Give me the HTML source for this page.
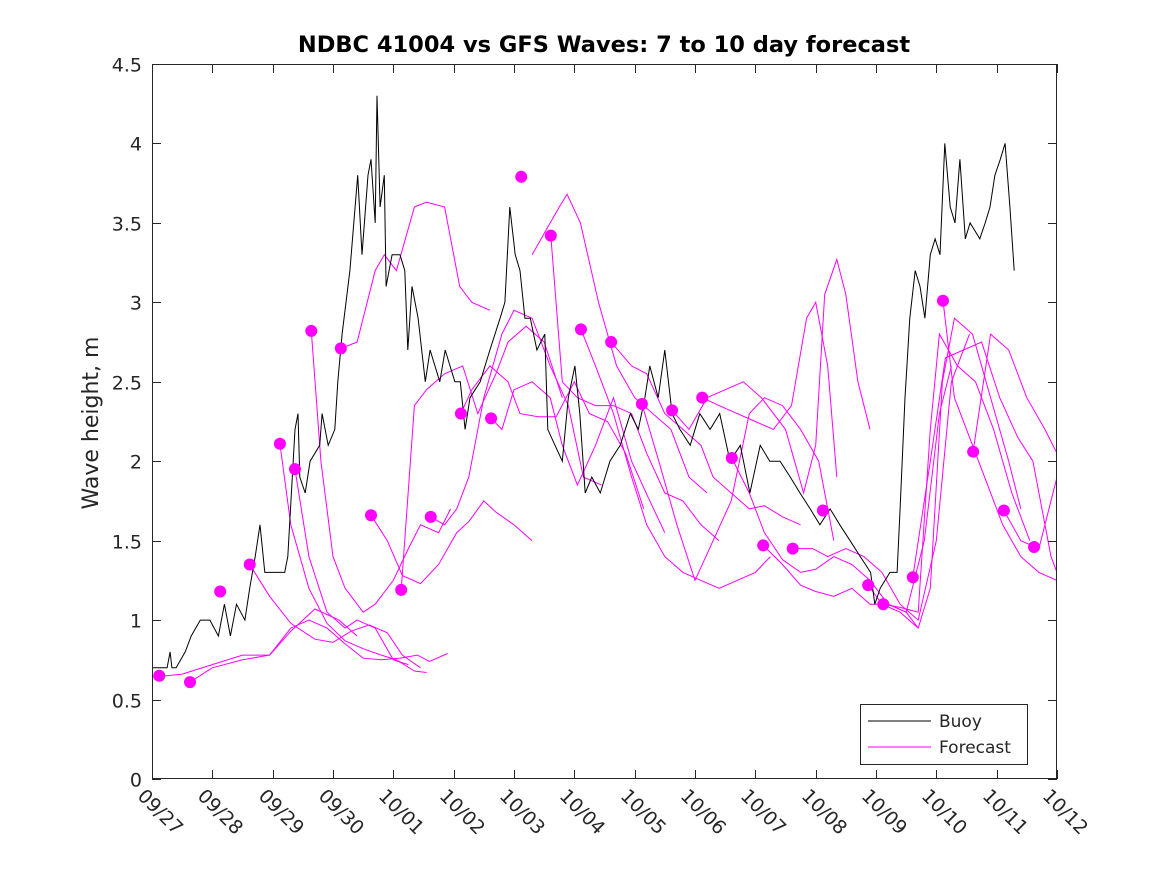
<!DOCTYPE html>
<html><head><meta charset="utf-8"><style>
body{margin:0;background:#fff}
svg{display:block;font-family:"DejaVu Sans","Liberation Sans",sans-serif}
</style></head><body>
<svg id="chart" width="1167" height="875" viewBox="0 0 1167 875">
<rect width="1167" height="875" fill="#fff"/>
<text x="604" y="52" text-anchor="middle" font-size="22.5" font-weight="bold" fill="#000">NDBC 41004 vs GFS Waves: 7 to 10 day forecast</text>
<text transform="translate(98,423) rotate(-90)" text-anchor="middle" font-size="22" fill="#262626">Wave height, m</text>
<defs><clipPath id="clip"><rect x="152" y="64" width="905" height="715"/></clipPath></defs>
<g id="forecasts" clip-path="url(#clip)"></g>
<g id="buoy" clip-path="url(#clip)"></g>
<g id="dots"></g>
<g id="axes"></g>
<g>
<rect x="860.5" y="704.5" width="167" height="60" fill="#fff" stroke="#262626" stroke-width="1"/>
<line x1="868" y1="721" x2="931" y2="721" stroke="#000" stroke-width="1"/>
<text x="939" y="727" font-size="17" fill="#262626">Buoy</text>
<line x1="868" y1="747" x2="931" y2="747" stroke="#f0f" stroke-width="1"/>
<text x="939" y="753" font-size="17" fill="#262626">Forecast</text>
</g>
</svg>
<script>
const xTickLabels=["09/27","09/28","09/29","09/30","10/01","10/02","10/03","10/04","10/05","10/06","10/07","10/08","10/09","10/10","10/11","10/12"];
const yTicks=[0,0.5,1,1.5,2,2.5,3,3.5,4,4.5];
const buoyDays=[0,0.25,0.3,0.33,0.4,0.55,0.65,0.8,0.96,1.1,1.2,1.3,1.4,1.54,1.62,1.71,1.79,1.87,2.0,2.2,2.25,2.37,2.42,2.45,2.54,2.62,2.78,2.82,2.92,3.03,3.08,3.15,3.28,3.41,3.48,3.58,3.63,3.70,3.73,3.78,3.85,3.88,3.98,4.11,4.19,4.24,4.31,4.41,4.53,4.61,4.77,4.86,4.94,5.02,5.11,5.19,5.27,5.44,5.6,5.77,5.85,5.93,6.02,6.1,6.18,6.27,6.38,6.51,6.56,6.68,6.8,6.9,7.01,7.09,7.18,7.29,7.43,7.59,7.76,7.93,8.06,8.17,8.25,8.39,8.5,8.62,8.75,8.92,9.08,9.25,9.41,9.58,9.75,9.91,10.08,10.24,10.41,10.58,10.74,10.91,11.07,11.24,11.4,11.57,11.74,11.91,11.98,12.07,12.23,12.35,12.4,12.48,12.56,12.65,12.73,12.81,12.9,12.98,13.06,13.14,13.23,13.31,13.39,13.48,13.56,13.72,13.81,13.89,13.97,14.06,14.14,14.22,14.29];
const buoyVals=[0.7,0.7,0.8,0.7,0.7,0.8,0.9,1.0,1.0,0.9,1.1,0.9,1.1,1.0,1.2,1.4,1.6,1.3,1.3,1.3,1.4,2.2,2.3,1.9,1.8,2.0,2.1,2.3,2.1,2.2,2.5,2.8,3.2,3.8,3.3,3.8,3.9,3.5,4.3,3.6,3.8,3.1,3.3,3.3,3.2,2.7,3.1,2.9,2.5,2.7,2.5,2.7,2.6,2.5,2.5,2.2,2.4,2.5,2.7,2.9,3.0,3.6,3.3,3.2,2.9,2.9,2.7,2.8,2.2,2.1,2.0,2.4,2.6,2.3,1.8,1.9,1.8,2.0,2.1,2.3,2.2,2.4,2.6,2.4,2.7,2.3,2.2,2.1,2.3,2.2,2.3,2.0,2.1,1.8,2.1,2.0,2.0,1.9,1.8,1.7,1.6,1.7,1.6,1.5,1.4,1.3,1.1,1.2,1.3,1.3,1.7,2.4,2.9,3.2,3.1,2.9,3.3,3.4,3.3,4.0,3.6,3.5,3.9,3.4,3.5,3.4,3.5,3.6,3.8,3.9,4.0,3.6,3.2];
const dotDays=[0.12,0.63,1.13,1.62,2.12,2.37,2.64,3.13,3.63,4.13,4.62,5.12,5.62,6.12,6.61,7.11,7.61,8.12,8.62,9.12,9.61,10.13,10.62,11.12,11.87,12.12,12.61,13.11,13.61,14.12,14.62];
const dotVals=[0.65,0.61,1.18,1.35,2.11,1.95,2.82,2.71,1.66,1.19,1.65,2.30,2.27,3.79,3.42,2.83,2.75,2.36,2.32,2.40,2.02,1.47,1.45,1.69,1.22,1.10,1.27,3.01,2.06,1.69,1.46];
const fcDays=[
[0,0.5,1,1.5,1.95,2.3,2.7,3.1,3.4],
[0.63,1,1.5,1.95,2.3,2.6,2.9,3.2,3.5,3.8,4.1,4.4,4.6,4.9],
[1.62,1.95,2.3,2.7,3.0,3.3,3.6,3.9,4.15,4.45],
[2.12,2.3,2.6,2.9,3.2,3.5,3.8,4.05,4.35,4.55],
[2.37,2.6,2.9,3.2,3.4,3.7,4.0,4.25],
[2.64,2.8,3.0,3.2,3.5,3.7,4.0,4.25,4.45,4.75,4.95],
[3.13,3.4,3.7,3.85,4.05,4.35,4.55,4.85,5.1,5.3,5.6],
[3.63,3.9,4.15,4.45,4.75,5.05,5.25,5.5,5.7,6.0,6.3],
[4.13,4.35,4.55,4.85,5.15,5.4,5.7,5.9,6.2,6.5,6.8],
[4.62,4.85,5.05,5.25,5.5,5.8,6.0,6.3,6.6,6.9,7.15,7.45],
[5.12,5.3,5.6,5.9,6.1,6.4,6.7,7.0,7.25,7.55,7.85,8.15],
[5.62,5.8,6.0,6.3,6.6,6.8,7.05,7.35,7.65,7.95,8.25,8.5],
[6.3,6.6,6.75,6.88,7.1,7.4,7.7,8.0,8.3,8.6,8.9,9.2],
[6.61,6.8,7.05,7.35,7.65,7.95,8.2,8.5,8.8,9.1,9.4],
[7.11,7.35,7.65,7.95,8.2,8.5,8.8,9.1,9.4,9.7,10.0,10.25],
[7.61,7.95,8.2,8.5,8.8,9.1,9.3,9.6,9.9,10.15,10.45,10.75],
[8.12,8.4,8.7,9.0,9.3,9.6,9.9,10.15,10.45,10.75,11.05,11.3],
[8.62,8.9,9.2,9.5,9.8,10.1,10.5,10.8,11.0,11.15,11.35,11.5,11.7,11.9],
[9.12,9.4,9.7,10.0,10.3,10.6,10.85,11.0,11.2,11.35],
[9.61,9.9,10.15,10.45,10.75,11.0,11.3,11.6,11.9,12.2,12.5,12.7],
[10.13,10.45,10.75,11.0,11.3,11.6,11.9,12.2,12.5,12.8,13.05,13.25],
[10.62,10.95,11.2,11.5,11.8,12.1,12.4,12.7,13.0,13.25,13.55],
[11.87,12.1,12.4,12.7,12.9,13.1,13.3,13.6,13.9,14.2,14.4],
[12.12,12.4,12.7,12.9,13.05,13.35,13.65,13.95,14.25,14.55],
[12.61,12.9,13.15,13.45,13.75,14.05,14.35,14.6,14.9,15],
[13.11,13.3,13.5,13.8,14.1,14.4,14.7,15],
[13.61,13.9,14.2,14.5,14.8,15],
[14.12,14.4,14.7,15]];
const fcVals=[
[0.64,0.66,0.72,0.78,0.78,0.93,1.07,1.0,0.9],
[0.61,0.70,0.75,0.78,0.95,1.0,0.95,0.85,0.76,0.75,0.76,0.78,0.74,0.79],
[1.35,1.15,0.98,0.88,0.86,0.93,0.97,0.92,0.78,0.70],
[2.11,1.6,1.2,0.98,0.87,0.82,0.78,0.75,0.68,0.67],
[1.95,1.4,1.05,0.95,1.0,0.95,0.75,0.72],
[2.82,2.0,1.4,1.2,1.05,1.1,1.25,1.45,1.6,1.55,1.7],
[2.71,2.75,3.2,3.3,3.2,3.6,3.63,3.6,3.1,3.0,2.95],
[1.66,1.5,1.28,1.23,1.35,1.55,1.62,1.75,1.68,1.6,1.5],
[1.19,2.35,2.45,2.55,2.6,2.3,2.55,2.75,2.85,2.75,2.4],
[1.65,1.6,1.7,1.9,2.4,2.8,2.95,2.9,2.6,2.35,1.9,1.85],
[2.30,2.45,2.6,2.5,2.3,2.28,2.28,2.5,2.3,2.25,2.05,1.7],
[2.27,2.2,2.45,2.5,2.4,2.1,1.85,2.1,2.4,2.0,1.75,1.55],
[3.3,3.5,3.6,3.68,3.5,3.0,2.6,2.4,2.3,2.2,1.9,1.8],
[3.42,2.5,2.4,2.35,2.35,2.3,2.05,1.8,1.75,1.6,1.5],
[2.83,2.6,2.3,1.9,1.6,1.4,1.3,1.25,1.2,1.25,1.3,1.4],
[2.75,2.6,2.55,2.3,2.2,2.1,1.9,1.8,1.7,1.72,1.65,1.6],
[2.36,2.0,1.6,1.25,1.5,1.75,2.3,2.4,2.35,2.2,2.0,1.5],
[2.32,2.2,2.4,2.45,2.5,2.4,2.2,1.8,2.1,3.05,3.27,3.05,2.5,2.2],
[2.40,2.35,2.3,2.25,2.2,2.35,2.9,3.0,2.6,1.9],
[2.02,1.8,1.55,1.38,1.3,1.32,1.4,1.35,1.25,1.1,1.05,0.95],
[1.47,1.35,1.22,1.18,1.15,1.2,1.1,1.1,1.05,1.5,2.3,2.6],
[1.45,1.45,1.4,1.45,1.4,1.3,1.1,1.0,1.5,2.5,2.8],
[1.22,1.1,1.05,0.95,1.2,2.5,2.9,2.8,2.4,2.0,1.7],
[1.10,1.08,1.05,2.2,2.8,2.6,2.5,2.2,1.8,1.5],
[1.27,2.0,2.65,2.7,2.75,2.4,2.15,2.0,1.4,1.3],
[3.01,2.4,2.2,1.9,1.6,1.4,1.3,1.25],
[2.06,2.8,2.7,2.4,2.2,2.05],
[1.69,1.5,1.45,1.9]];
const NS='http://www.w3.org/2000/svg';
const X0=152,X1=1057,Y0=779,Y1=64,DMAX=15,VMAX=4.5;
function xs(d){return X0+(X1-X0)*d/DMAX;}
function ys(v){return Y0-(Y0-Y1)*v/VMAX;}
function mk(tag,attrs,parent){const e=document.createElementNS(NS,tag);for(const k in attrs)e.setAttribute(k,attrs[k]);parent.appendChild(e);return e;}
const fg=document.getElementById('forecasts');
fcDays.forEach((ds,i)=>{
  const p=ds.map((d,j)=>xs(d).toFixed(1)+','+ys(fcVals[i][j]).toFixed(1)).join(' ');
  const el=mk('polyline',{points:p,fill:'none',stroke:'#f0f','stroke-width':1},fg);
  
  
});
const bg=document.getElementById('buoy');
const bp=buoyDays.map((d,j)=>xs(d).toFixed(1)+','+ys(buoyVals[j]).toFixed(1)).join(' ');
const bl=mk('polyline',{points:bp,fill:'none',stroke:'#000','stroke-width':1},bg);


const dg=document.getElementById('dots');
dotDays.forEach((d,i)=>{
  if(d>DMAX)return;
  const c=mk('circle',{cx:xs(d),cy:ys(dotVals[i]),r:6,fill:'#f0f'},dg);
  
  
});
const ag=document.getElementById('axes');
const box=mk('rect',{x:X0+0.5,y:Y1+0.5,width:X1-X0-1,height:Y0-Y1-1,fill:'none',stroke:'#262626','stroke-width':1},ag);


yTicks.forEach(v=>{
  const y=Math.round(ys(v))+0.5;
  mk('line',{x1:X0,x2:X0+9,y1:y,y2:y,stroke:'#262626'},ag);
  mk('line',{x1:X1-9,x2:X1,y1:y,y2:y,stroke:'#262626'},ag);
  const t=mk('text',{x:X0-10,y:y+7,'text-anchor':'end','font-size':19,fill:'#262626'},ag);
  t.textContent=String(v);
  
  
});
xTickLabels.forEach((lab,i)=>{
  const x=Math.round(xs(i))+0.5;
  mk('line',{x1:x,x2:x,y1:Y0,y2:Y0-9,stroke:'#262626'},ag);
  mk('line',{x1:x,x2:x,y1:Y1,y2:Y1+9,stroke:'#262626'},ag);
  const t=mk('text',{x:0,y:0,'font-size':19,fill:'#262626',transform:'translate('+(x-16)+','+(Y0+18)+') rotate(45)'},ag);
  t.textContent=lab;
  
  
});
</script>
</body></html>
